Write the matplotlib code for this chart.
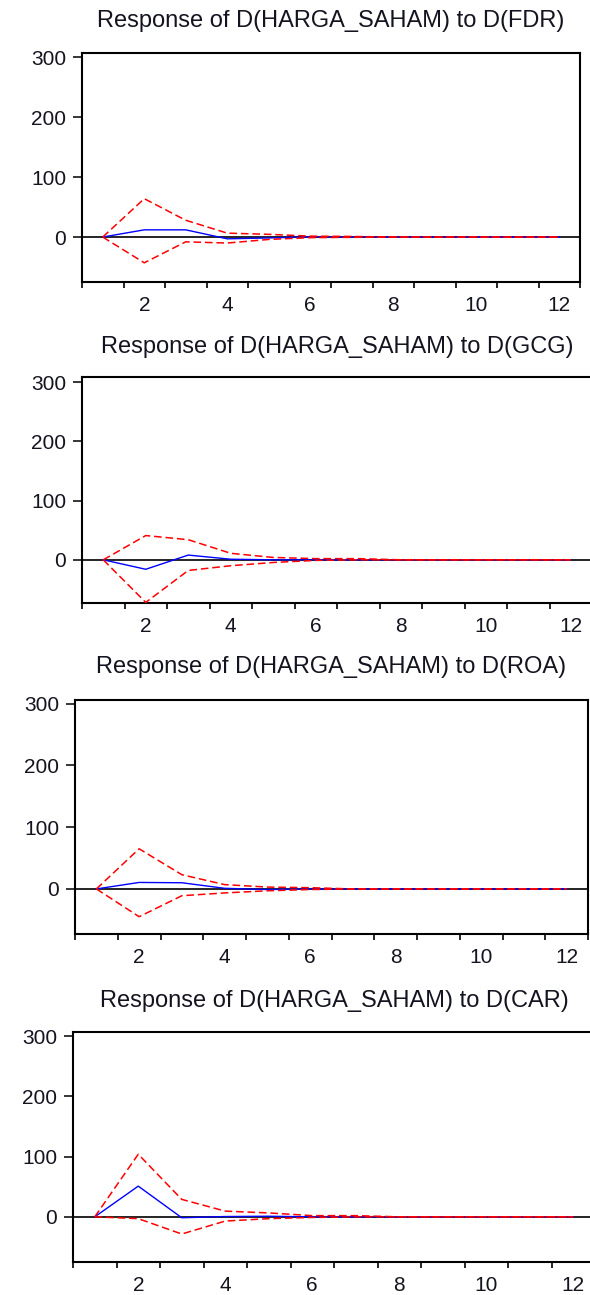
import matplotlib
matplotlib.use("Agg")
import matplotlib.pyplot as plt

plt.rcParams['font.family'] = ['Liberation Sans', 'DejaVu Sans']

periods = list(range(1, 13))
shocks = ["FDR", "GCG", "ROA", "CAR"]
titles = [f"Response of D(HARGA_SAHAM) to D({s})" for s in shocks]

# impulse responses (blue) and +/- 2 S.E. bands (red dashed)
fdr_resp  = [0, 12, 12, -3, -1.5, 0.3, 0, 0, 0, 0, 0, 0]
fdr_upper = [0, 64, 28, 6.5, 4.5, 1.5, 1, 0, 0, 0, 0, 0]
fdr_lower = [0, -43, -8, -10, -4, -1, -0.5, 0, 0, 0, 0, 0]

gcg_resp  = [0, -16, 8, 1, 0, 0, 0, 0, 0, 0, 0, 0]
gcg_upper = [0, 41, 34, 11, 4, 2, 2, 0, 0, 0, 0, 0]
gcg_lower = [0, -72, -18, -10, -4.5, -1, 0, 0, 0, 0, 0, 0]

roa_resp  = [0, 10.5, 10, 1, -1, 0, 0, 0, 0, 0, 0, 0]
roa_upper = [0, 65, 23, 7, 3, 2, 0, 0, 0, 0, 0, 0]
roa_lower = [0, -45, -11, -6.5, -3, -1, 0, 0, 0, 0, 0, 0]

car_resp  = [0, 51, -1.5, 0.5, 1, 0, 0, 0, 0, 0, 0, 0]
car_upper = [0, 104, 29, 9.5, 6.5, 2, 2, 0, 0, 0, 0, 0]
car_lower = [0, -3, -28.5, -7, -3, -1, 0, 0, 0, 0, 0, 0]

responses = [fdr_resp, gcg_resp, roa_resp, car_resp]
uppers = [fdr_upper, gcg_upper, roa_upper, car_upper]
lowers = [fdr_lower, gcg_lower, roa_lower, car_lower]

yticks = [0, 100, 200, 300]
xticklabels = [2, 4, 6, 8, 10, 12]

W, H = 590, 1295
fig = plt.figure(figsize=(W / 100, H / 100), dpi=100)

# pixel boxes: left, right, top, bottom ; title baseline
boxes = [(82, 580, 53, 282), (82, 592, 377, 603), (75, 588, 700, 934), (73, 595, 1032, 1262)]
title_base = [27, 353, 673, 1007]
ylims = [(-75, 307), (-73, 309), (-73, 306), (-75, 307)]

txtcol = '#141420'
for i in range(4):
    l, r, t, b = boxes[i]
    ax = fig.add_axes([l / W, 1 - b / H, (r - l) / W, (b - t) / H])
    ax.axhline(0, color='black', lw=1.2, zorder=1)
    ax.plot(periods, responses[i], color='#0000ff', lw=1.0, zorder=2)
    ax.plot(periods, uppers[i], color='#ff0000', lw=1.1, ls=(0, (5, 2.5)), zorder=3)
    ax.plot(periods, lowers[i], color='#ff0000', lw=1.1, ls=(0, (5, 2.5)), zorder=3)
    ax.set_xlim(0.5, 12.5)
    ax.set_ylim(*ylims[i])
    ax.set_yticks(yticks)
    ax.set_yticklabels([str(v) for v in yticks])
    ax.set_xticks(xticklabels)
    ax.set_xticklabels([str(v) for v in xticklabels])
    ax.set_xticks([k + 0.5 for k in range(0, 13)], minor=True)
    ax.tick_params(axis='x', which='major', length=0, pad=10, labelsize=15, labelcolor=txtcol)
    ax.tick_params(axis='x', which='minor', length=4.5, width=1.2, direction='out', color='black')
    ax.tick_params(axis='y', which='major', length=6.5, width=1.1, pad=5, labelsize=15,
                   labelcolor=txtcol, direction='out')
    ax.tick_params(axis='y', which='minor', length=0)
    for s in ax.spines.values():
        s.set_linewidth(1.5)
        s.set_color('black')
    fig.text((l + r) / 2 / W, 1 - title_base[i] / H, titles[i], ha='center', va='baseline',
             fontsize=17, color=txtcol)

fig.savefig('out.png', dpi=100)
